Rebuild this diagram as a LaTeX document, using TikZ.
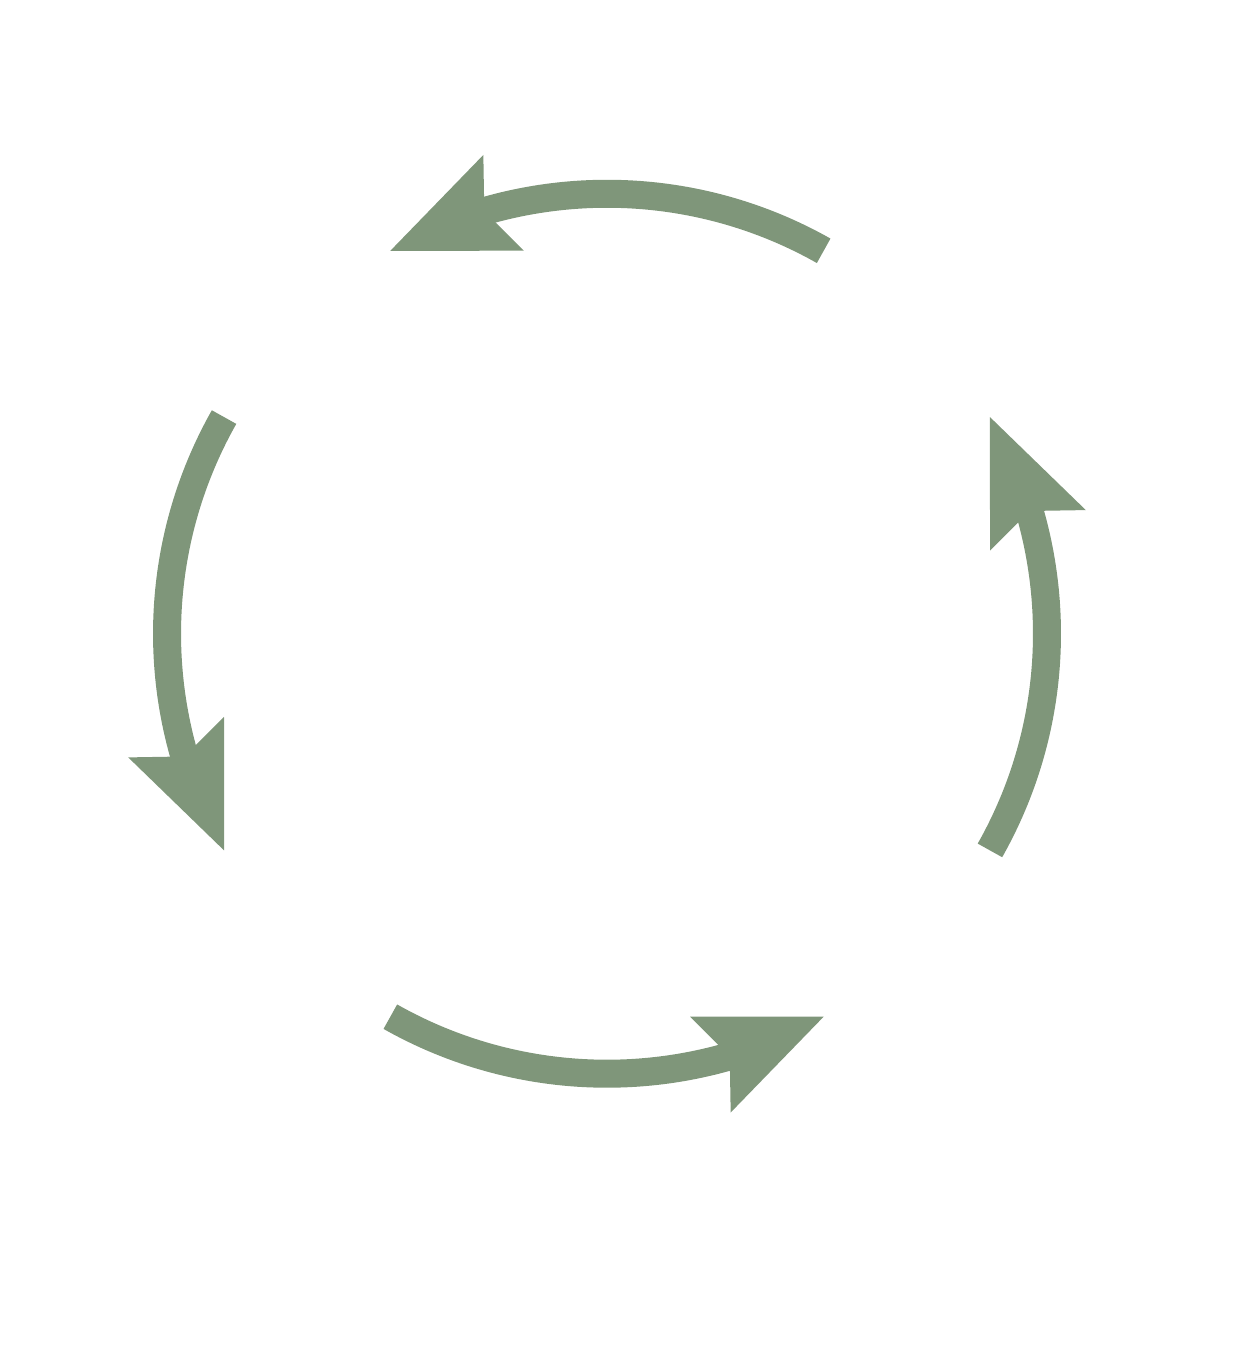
\documentclass[tikz,border=0pt]{standalone}
\usetikzlibrary{arrows.meta,bending,calc}
\definecolor{sage}{RGB}{127,150,122}
\begin{document}
\begin{tikzpicture}[x=1bp,y=1bp,
  cyc/.style={color=sage, line width=28bp, line cap=butt,
    -{Stealth[length=123bp,width=104bp,inset=21bp,line width=0pt 0,flex]}}]
\useasboundingbox (0,0) rectangle (1245,1346);
\coordinate (c) at (607,712.25);
\coordinate (s1) at ($(c)+(60.5:440)$);
\coordinate (s2) at ($(c)+(150.5:440)$);
\coordinate (s3) at ($(c)+(240.5:440)$);
\coordinate (s4) at ($(c)+(330.5:440)$);
\draw[cyc] (s1) arc[start angle=60.5, end angle=119.5, radius=440];
\draw[cyc] (s2) arc[start angle=150.5, end angle=209.5, radius=440];
\draw[cyc] (s3) arc[start angle=240.5, end angle=299.5, radius=440];
\draw[cyc] (s4) arc[start angle=330.5, end angle=389.5, radius=440];
\end{tikzpicture}
\end{document}
